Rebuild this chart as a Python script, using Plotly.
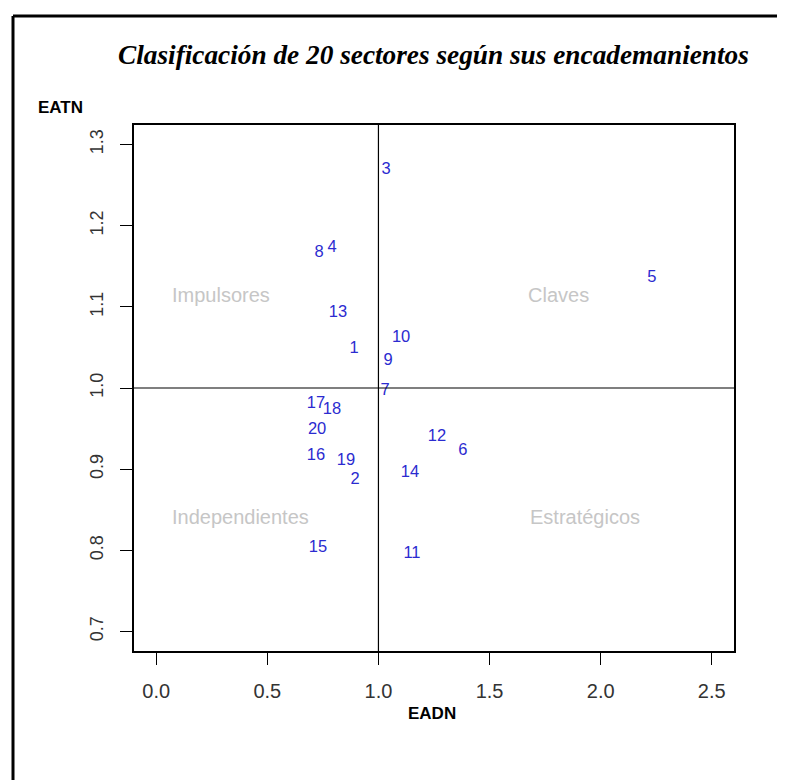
import plotly.graph_objects as go

# ---- data ----
sectors = [str(i) for i in range(1, 21)]
eadn = [0.890, 0.895, 1.034, 0.791, 2.230, 1.380, 1.030, 0.733, 1.043, 1.102,
        1.151, 1.263, 0.818, 1.142, 0.728, 0.719, 0.719, 0.791, 0.854, 0.724]
eatn = [1.048, 0.887, 1.269, 1.173, 1.136, 0.922, 0.996, 1.167, 1.033, 1.062,
        0.796, 0.940, 1.092, 0.896, 0.803, 0.916, 0.980, 0.973, 0.910, 0.949]
x_ticks = [0.0, 0.5, 1.0, 1.5, 2.0, 2.5]
y_ticks = [0.7, 0.8, 0.9, 1.0, 1.1, 1.2, 1.3]
threshold = 1.0
quadrant_names = ["Impulsores", "Claves", "Independientes", "Estratégicos"]

title_text = "Clasificación de 20 sectores según sus encademanientos"

SANS = "Liberation Sans, Arial, sans-serif"
SERIF = "Liberation Serif, Times New Roman, serif"

# page body has an 8px margin; compensate so the picture lines up
OFF = 8
FIG_W, FIG_H = 785 - OFF, 780 - OFF
L, T, W, H = 134 - OFF, 125 - OFF, 600, 526


def px2paper_x(px):
    return (px - OFF - L) / W


def px2paper_y(py):
    return (T + H - (py - OFF)) / H


fig = go.Figure()
fig.add_trace(go.Scatter(
    x=eadn, y=eatn, text=sectors, mode="text",
    textposition="middle center",
    textfont=dict(family=SANS, size=16.5, color="#2b2bd0"),
    hoverinfo="text", showlegend=False,
))

# quadrant lines
fig.add_shape(type="line", xref="x", yref="paper", x0=threshold, x1=threshold, y0=0, y1=1,
              line=dict(color="black", width=1.2))
fig.add_shape(type="line", xref="paper", yref="y", x0=0, x1=1, y0=threshold, y1=threshold,
              line=dict(color="black", width=1.2))

# outer frame (top and left border lines of the image)
fig.add_shape(type="line", xref="paper", yref="paper",
              x0=px2paper_x(13), x1=px2paper_x(820), y0=px2paper_y(16), y1=px2paper_y(16),
              line=dict(color="black", width=3))
fig.add_shape(type="line", xref="paper", yref="paper",
              x0=px2paper_x(13), x1=px2paper_x(13), y0=px2paper_y(16), y1=px2paper_y(820),
              line=dict(color="black", width=3))

q_pos = [(0.29, 1.115), (1.81, 1.115), (0.38, 0.841), (1.93, 0.841)]
for name, (qx, qy) in zip(quadrant_names, q_pos):
    fig.add_annotation(x=qx, y=qy, text=name, showarrow=False, xref="x", yref="y",
                       xanchor="center", yanchor="middle",
                       font=dict(family=SANS, size=20, color="#c6c6c6"))

# title and axis titles
fig.add_annotation(x=px2paper_x(433), y=px2paper_y(55), xref="paper", yref="paper",
                   xanchor="center", yanchor="middle",
                   text="<b><i>" + title_text + "</i></b>", showarrow=False,
                   font=dict(family=SERIF, size=27.3, color="black"))
fig.add_annotation(x=px2paper_x(60), y=px2paper_y(107), xref="paper", yref="paper",
                   xanchor="center", yanchor="middle",
                   text="<b>EATN</b>", showarrow=False,
                   font=dict(family=SANS, size=17, color="black"))
fig.add_annotation(x=px2paper_x(432), y=px2paper_y(713), xref="paper", yref="paper",
                   xanchor="center", yanchor="middle",
                   text="<b>EADN</b>", showarrow=False,
                   font=dict(family=SANS, size=17, color="black"))

fig.update_xaxes(range=[-0.1, 2.6], tickvals=x_ticks, tickformat=".1f",
                 showgrid=False, zeroline=False,
                 showline=True, mirror=True, linecolor="black", linewidth=1.5,
                 ticks="outside", ticklen=12, tickcolor="black", tickwidth=1,
                 ticklabelstandoff=9,
                 tickfont=dict(family=SANS, size=20, color="#333333"))
fig.update_yaxes(range=[0.676, 1.324], tickvals=y_ticks, tickformat=".1f",
                 showgrid=False, zeroline=False,
                 showline=True, mirror=True, linecolor="black", linewidth=1.5,
                 ticks="outside", ticklen=12, tickcolor="black", tickwidth=1,
                 tickangle=-90, ticklabelstandoff=10,
                 tickfont=dict(family=SANS, size=18, color="#333333"))

fig.update_layout(
    width=FIG_W, height=FIG_H,
    margin=dict(l=L, r=FIG_W - L - W, t=T, b=FIG_H - T - H),
    plot_bgcolor="white", paper_bgcolor="white",
    showlegend=False,
)

fig.write_html("out.html")
